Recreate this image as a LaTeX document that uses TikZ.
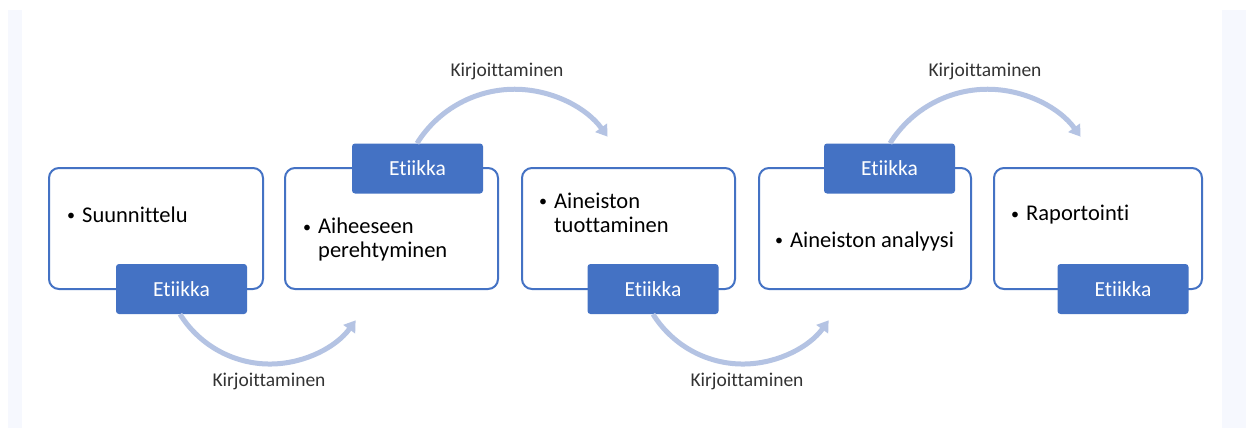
\documentclass[tikz,border=0pt]{standalone}
\usepackage{fontspec}
\setmainfont{Carlito}[Ligatures=NoCommon]
\usetikzlibrary{arrows.meta}
\definecolor{acc}{HTML}{4472C4}
\definecolor{arcc}{HTML}{B4C3E3}
\definecolor{strip}{HTML}{F6F8FE}
\tikzset{
  procbox/.style={draw=acc, line width=2pt, rounded corners=10pt, fill=white},
  tabbox/.style={fill=acc, rounded corners=3pt, minimum width=131pt, minimum height=50pt, inner sep=0pt, text=white, font=\fontsize{21.5}{24}\selectfont},
  bodytext/.style={anchor=west, align=left, inner sep=0pt, font=\fontsize{22.5}{24}\selectfont},
  flowarc/.style={draw=arcc, line width=5pt, -{Triangle[length=11pt,width=14pt]}},
  arclabel/.style={font=\fontsize{19.5}{22}\selectfont, text=black!80, inner sep=0pt}
}
\newcommand{\bul}{\makebox[16pt][l]{\hspace{1pt}\raisebox{1.8pt}{\fontsize{16}{16}\selectfont •}}}
\begin{document}
\begin{tikzpicture}[x=1pt,y=-1pt]
\useasboundingbox (0,0) rectangle (1249,428);
\fill[white] (0,0) rectangle (1249,428);
\fill[strip] (8,10) rectangle (1246,428);
\fill[white] (22,10) rectangle (1222,428);

% boxes
\draw[procbox] (49,168) rectangle (263,289) node[pos=0, coordinate] (b1) {};
\draw[procbox] (285,168) rectangle (498,289) node[pos=0, coordinate] (b2) {};
\draw[procbox] (522,168) rectangle (735,289) node[pos=0, coordinate] (b3) {};
\draw[procbox] (759,168) rectangle (971,289) node[pos=0, coordinate] (b4) {};
\draw[procbox] (994,168) rectangle (1202,289) node[pos=0, coordinate] (b5) {};

% tabs
\node[tabbox] (t1) at (181.5,289) {Etiikka};
\node[tabbox] (t2) at (417.5,168.5) {Etiikka};
\node[tabbox] (t3) at (653,289) {Etiikka};
\node[tabbox] (t4) at (889.5,168.5) {Etiikka};
\node[tabbox] (t5) at (1123,289) {Etiikka};

% texts
\node[bodytext] (x1) at (66,215) {\bul Suunnittelu};
\node[bodytext] (x2) at (302,241) {\begin{tabular}{@{}l@{}l@{}}\bul&Aiheeseen\\ &perehtyminen\end{tabular}};
\node[bodytext] (x3) at (538,215.5) {\begin{tabular}{@{}l@{}l@{}}\bul&Aineiston\\ &tuottaminen\end{tabular}};
\node[bodytext] (x4) at (774,241) {\bul Aineiston analyysi};
\node[bodytext] (x5) at (1010,215) {\bul Raportointi};

% arcs
\draw[flowarc] ([xshift=-1.5pt]t1.south) arc[start angle=148, end angle=36, radius=106];
\draw[flowarc] ([xshift=-0.5pt]t2.north) arc[start angle=212, end angle=324, radius=115];
\draw[flowarc] ([xshift=0pt]t3.south) arc[start angle=148, end angle=36, radius=106];
\draw[flowarc] ([xshift=0.5pt]t4.north) arc[start angle=212, end angle=324, radius=115];

% labels
\node[arclabel] (l1) at (269,381) {Kirjoittaminen};
\node[arclabel] (l2) at (507,71) {Kirjoittaminen};
\node[arclabel] (l3) at (747,381) {Kirjoittaminen};
\node[arclabel] (l4) at (985,71) {Kirjoittaminen};
\end{tikzpicture}
\end{document}
